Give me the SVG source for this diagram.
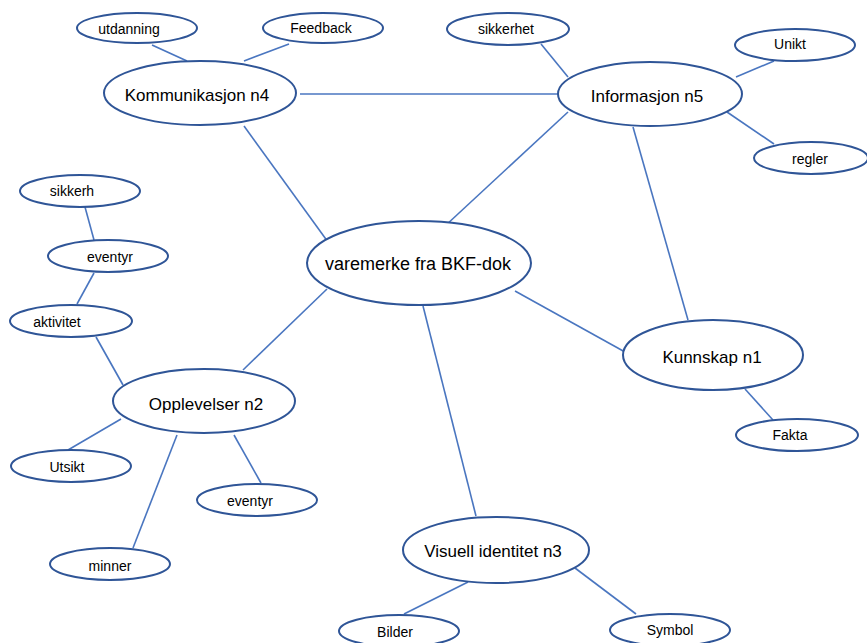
<svg xmlns="http://www.w3.org/2000/svg" width="867" height="643" viewBox="0 0 867 643">
<style>
.n ellipse{fill:#fff;stroke:#2F5597;stroke-width:2}
.n text{font-family:"Liberation Sans",Arial,sans-serif;fill:#000;text-anchor:middle;dominant-baseline:central}
.s text{font-size:14px}
.b text{font-size:17px}
#edges line{stroke:#4A76C0;stroke-width:1.6}
</style>
<rect width="867" height="643" fill="#fff"/>
<g id="edges">
<line x1="152" y1="45" x2="187" y2="61"/>
<line x1="289" y1="44" x2="244" y2="61"/>
<line x1="300" y1="94" x2="558" y2="94"/>
<line x1="244" y1="126" x2="328" y2="242"/>
<line x1="541" y1="44" x2="568" y2="77"/>
<line x1="774" y1="61" x2="736" y2="77"/>
<line x1="727" y1="112" x2="774" y2="144"/>
<line x1="568" y1="112" x2="445" y2="226"/>
<line x1="633" y1="127" x2="688" y2="320"/>
<line x1="515" y1="291" x2="625" y2="352"/>
<line x1="745" y1="389" x2="773" y2="420"/>
<line x1="423" y1="306" x2="476" y2="516"/>
<line x1="327" y1="289" x2="243" y2="370"/>
<line x1="85" y1="207" x2="94" y2="240"/>
<line x1="94" y1="273" x2="77" y2="304"/>
<line x1="96" y1="337" x2="123" y2="385"/>
<line x1="121" y1="419" x2="68" y2="450"/>
<line x1="177" y1="435" x2="133" y2="548"/>
<line x1="234" y1="435" x2="261" y2="483"/>
<line x1="468" y1="582" x2="404" y2="614"/>
<line x1="575" y1="568" x2="636" y2="614"/>
</g>
<g id="utdanning" class="n s"><ellipse cx="137" cy="28" rx="60" ry="15"/><text x="129" y="29">utdanning</text></g>
<g id="feedback" class="n s"><ellipse cx="323" cy="28" rx="60" ry="15"/><text x="321" y="28">Feedback</text></g>
<g id="kommunikasjon" class="n b"><ellipse cx="200" cy="93" rx="96" ry="32"/><text x="197" y="95">Kommunikasjon n4</text></g>
<g id="sikkerhet" class="n s"><ellipse cx="508" cy="29" rx="61" ry="16"/><text x="506" y="29">sikkerhet</text></g>
<g id="unikt" class="n s"><ellipse cx="795" cy="45" rx="60" ry="16"/><text x="790" y="44">Unikt</text></g>
<g id="informasjon" class="n b"><ellipse cx="650" cy="94" rx="92" ry="32"/><text x="647" y="96">Informasjon n5</text></g>
<g id="regler" class="n s"><ellipse cx="811" cy="158" rx="57" ry="16"/><text x="810" y="159">regler</text></g>
<g id="varemerke" class="n"><ellipse cx="419" cy="263" rx="112" ry="42"/><text x="418" y="264" style="font-size:18px">varemerke fra BKF-dok</text></g>
<g id="kunnskap" class="n b"><ellipse cx="713" cy="355" rx="90" ry="35"/><text x="712" y="357">Kunnskap n1</text></g>
<g id="fakta" class="n s"><ellipse cx="797" cy="435" rx="61" ry="16"/><text x="790" y="435">Fakta</text></g>
<g id="sikkerh" class="n s"><ellipse cx="80" cy="191" rx="60" ry="16"/><text x="72" y="191">sikkerh</text></g>
<g id="eventyr1" class="n s"><ellipse cx="108" cy="256" rx="60" ry="16"/><text x="110" y="257">eventyr</text></g>
<g id="aktivitet" class="n s"><ellipse cx="71" cy="321" rx="61" ry="16"/><text x="57" y="322">aktivitet</text></g>
<g id="opplevelser" class="n b"><ellipse cx="204" cy="401" rx="91" ry="32"/><text x="206" y="404">Opplevelser n2</text></g>
<g id="utsikt" class="n s"><ellipse cx="71" cy="466" rx="60" ry="16"/><text x="67" y="467">Utsikt</text></g>
<g id="eventyr2" class="n s"><ellipse cx="257" cy="500" rx="60" ry="16"/><text x="250" y="501">eventyr</text></g>
<g id="minner" class="n s"><ellipse cx="110" cy="564" rx="60" ry="16"/><text x="110" y="566">minner</text></g>
<g id="visuell" class="n b"><ellipse cx="496" cy="550" rx="93" ry="33"/><text x="493" y="551">Visuell identitet n3</text></g>
<g id="bilder" class="n s"><ellipse cx="399" cy="631" rx="60" ry="16"/><text x="395" y="632">Bilder</text></g>
<g id="symbol" class="n s"><ellipse cx="670" cy="630" rx="60" ry="16"/><text x="670" y="630">Symbol</text></g>
</svg>
